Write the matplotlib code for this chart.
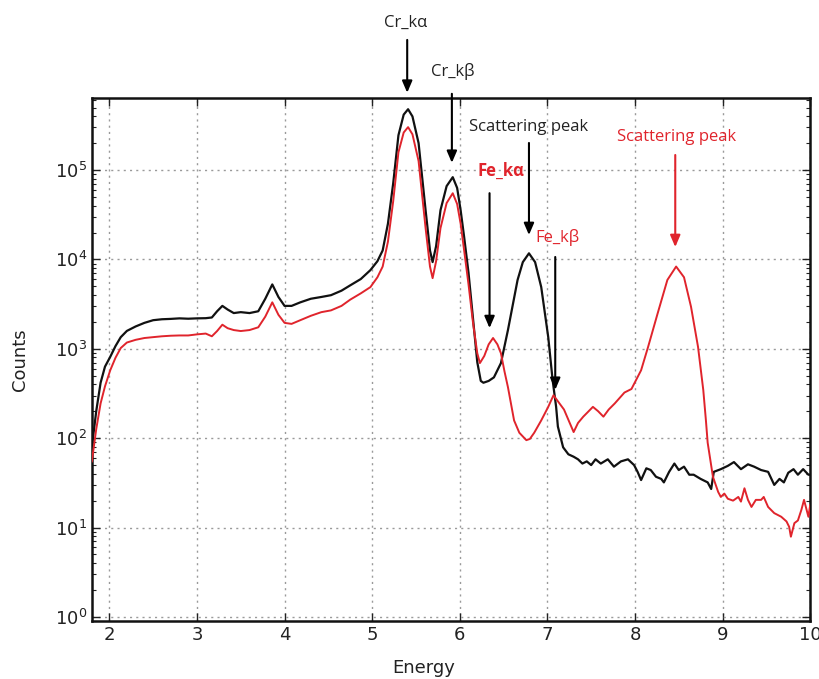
import matplotlib
matplotlib.use("Agg")
import matplotlib.pyplot as plt
from matplotlib.ticker import LogLocator, NullFormatter

# Spectrum 1 (black): energy and counts
energy_black = [1.80, 1.85, 1.90, 1.95, 2.01, 2.07, 2.13, 2.20, 2.30, 2.40, 2.50, 2.60, 2.70, 2.80,
                2.90, 3.00, 3.10, 3.17, 3.23, 3.29, 3.35, 3.42, 3.50, 3.60, 3.70, 3.78, 3.86, 3.93,
                4.00, 4.08, 4.18, 4.30, 4.42, 4.53, 4.65, 4.75, 4.87, 4.98, 5.06, 5.12, 5.18, 5.24,
                5.30, 5.36, 5.41, 5.46, 5.53, 5.61, 5.66, 5.69, 5.73, 5.78, 5.85, 5.92, 5.97, 6.01,
                6.05, 6.10, 6.15, 6.20, 6.24, 6.27, 6.33, 6.39, 6.47, 6.55, 6.66, 6.72, 6.79, 6.86,
                6.93, 7.01, 7.06, 7.10, 7.12, 7.18, 7.24, 7.30, 7.35, 7.40, 7.45, 7.50, 7.55, 7.61,
                7.69, 7.76, 7.84, 7.92, 7.99, 8.03, 8.07, 8.13, 8.18, 8.24, 8.30, 8.33, 8.39, 8.45,
                8.50, 8.56, 8.62, 8.67, 8.75, 8.83, 8.87, 8.90, 8.98, 9.06, 9.13, 9.21, 9.29, 9.36,
                9.44, 9.52, 9.59, 9.65, 9.70, 9.75, 9.81, 9.86, 9.92, 9.98, 10.00]
counts_black = [79, 200, 417, 631, 813, 1072, 1349, 1585, 1778, 1950, 2089, 2140, 2160, 2190,
                2170, 2190, 2200, 2240, 2630, 3020, 2750, 2510, 2570, 2510, 2630, 3630, 5250, 3800,
                3020, 3020, 3310, 3630, 3800, 3980, 4470, 5130, 6030, 7590, 9550, 12600, 25100, 70800,
                245000, 417000, 479000, 398000, 200000, 35500, 12600, 9330, 14100, 35500, 66100, 83200, 63100, 35500,
                17800, 7080, 2240, 708, 437, 417, 437, 479, 692, 1620, 5890, 9330, 11700, 9330,
                4900, 1350, 447, 224, 135, 79, 66, 62, 58, 52, 55, 50, 58, 52,
                58, 48, 55, 58, 50, 42, 34, 46, 44, 37, 35, 32, 42, 52,
                44, 48, 39, 39, 35, 32, 27, 42, 45, 49, 54, 45, 51, 48,
                44, 42, 30, 35, 32, 41, 45, 39, 45, 39, 39]

# Spectrum 2 (red): energy and counts
energy_red = [1.80, 1.85, 1.90, 1.95, 2.01, 2.07, 2.13, 2.20, 2.30, 2.40, 2.50, 2.60, 2.70, 2.80,
              2.90, 3.00, 3.10, 3.17, 3.23, 3.29, 3.35, 3.42, 3.50, 3.60, 3.70, 3.78, 3.86, 3.93,
              4.00, 4.08, 4.18, 4.30, 4.42, 4.53, 4.65, 4.75, 4.87, 4.98, 5.06, 5.12, 5.18, 5.24,
              5.30, 5.36, 5.41, 5.46, 5.53, 5.61, 5.66, 5.69, 5.73, 5.78, 5.85, 5.92, 5.97, 6.01,
              6.05, 6.10, 6.15, 6.20, 6.23, 6.28, 6.33, 6.38, 6.43, 6.47, 6.51, 6.55, 6.62, 6.68,
              6.76, 6.80, 6.85, 6.93, 7.01, 7.07, 7.13, 7.19, 7.30, 7.35, 7.41, 7.46, 7.52, 7.58,
              7.64, 7.70, 7.77, 7.88, 7.96, 8.07, 8.15, 8.26, 8.37, 8.47, 8.56, 8.64, 8.72, 8.78,
              8.81, 8.83, 8.89, 8.95, 8.98, 9.02, 9.06, 9.12, 9.18, 9.21, 9.25, 9.29, 9.33, 9.38,
              9.44, 9.47, 9.52, 9.59, 9.67, 9.73, 9.76, 9.78, 9.82, 9.86, 9.90, 9.93, 9.98, 10.00]
counts_red = [55, 126, 245, 380, 575, 794, 1020, 1175, 1260, 1320, 1350, 1380, 1400, 1410,
              1410, 1450, 1480, 1380, 1580, 1860, 1700, 1620, 1580, 1620, 1740, 2290, 3310, 2400,
              1950, 1900, 2090, 2340, 2570, 2690, 3020, 3550, 4170, 4900, 6310, 8320, 15800, 44700,
              158000, 263000, 302000, 251000, 126000, 22400, 8320, 6170, 9550, 22400, 42700, 55000, 41700, 25100,
              12600, 5250, 2000, 891, 692, 832, 1120, 1320, 1120, 891, 562, 372, 158, 115,
              95, 98, 115, 158, 224, 302, 251, 209, 117, 148, 174, 195, 224, 200,
              174, 209, 245, 324, 355, 575, 1050, 2510, 5890, 8320, 6310, 2950, 1050, 345,
              158, 89, 37, 25, 22, 24, 21, 20, 22, 19.5, 27.5, 20.4, 17, 20.4,
              20.4, 22, 17, 14.5, 13.2, 11.7, 10.2, 7.9, 11.2, 12, 15.8, 20.4, 13.2, 17.8]

# Peak annotations: energy of the arrow, label x, and heights as fractions of the axes
peak_labels = ["Cr_k\u03b1", "Cr_k\u03b2", "Scattering peak", "Fe_k\u03b1", "Fe_k\u03b2", "Scattering peak"]
arrow_energy = [5.40, 5.91, 6.79, 6.34, 7.09, 8.46]
label_energy = [5.38, 5.92, 6.79, 6.47, 7.12, 8.47]
label_height = [1.143, 1.050, 0.945, 0.860, 0.734, 0.925]
tail_height = [1.111, 1.008, 0.914, 0.818, 0.696, 0.891]
tip_height = [1.010, 0.876, 0.738, 0.560, 0.442, 0.715]
text_colors = ["#222222", "#222222", "#222222", "#e0242c", "#e0242c", "#e0242c"]
arrow_colors = ["black", "black", "black", "black", "black", "#e0242c"]
text_weights = ["normal", "normal", "normal", "bold", "normal", "normal"]

fig = plt.figure(figsize=(8.2, 6.79), dpi=100)
ax = fig.add_axes([0.112, 0.0854, 0.876, 0.7703])

ax.plot(energy_black, counts_black, color="#111111", lw=1.6, zorder=3)
ax.plot(energy_red, counts_red, color="#e0242c", lw=1.4, zorder=4)

ax.set_yscale("log")
ax.set_xlim(1.8, 10)
ax.set_ylim(0.9, 6.4e5)
ax.set_xticks([2, 3, 4, 5, 6, 7, 8, 9, 10])
ax.yaxis.set_major_locator(LogLocator(base=10, numticks=10))
ax.yaxis.set_minor_locator(LogLocator(base=10, subs=range(2, 10), numticks=20))
ax.yaxis.set_minor_formatter(NullFormatter())

ax.grid(True, which="major", color="#9a9a9a", linestyle=(0, (1.5, 3)), linewidth=1.0)
ax.tick_params(which="both", direction="in", top=True, right=True, labelsize=13, colors="#222222")
ax.tick_params(which="major", length=6, width=1)
ax.tick_params(which="minor", length=3, width=0.8)
for sp in ax.spines.values():
    sp.set_linewidth(1.8)
    sp.set_color("#111111")

ax.set_xlabel("Energy", fontsize=13, color="#222222")
ax.set_ylabel("Counts", fontsize=13, color="#222222")
ax.xaxis.set_label_coords(0.462, -0.072)
ax.yaxis.set_label_coords(-0.088, 0.5)

trans = ax.get_xaxis_transform()
for i, lab in enumerate(peak_labels):
    ax.annotate("", xy=(arrow_energy[i], tip_height[i]), xycoords=trans,
                xytext=(arrow_energy[i], tail_height[i]), textcoords=trans,
                arrowprops=dict(arrowstyle="-|>,head_length=0.7,head_width=0.3",
                                color=arrow_colors[i], lw=1.5, shrinkA=0, shrinkB=0),
                annotation_clip=False, zorder=6)
    ax.text(label_energy[i], label_height[i], lab, transform=trans, ha="center", va="center",
            fontsize=12, color=text_colors[i], fontweight=text_weights[i],
            family=["Open Sans", "DejaVu Sans"], clip_on=False, zorder=6)

fig.savefig("out.png", dpi=100)
